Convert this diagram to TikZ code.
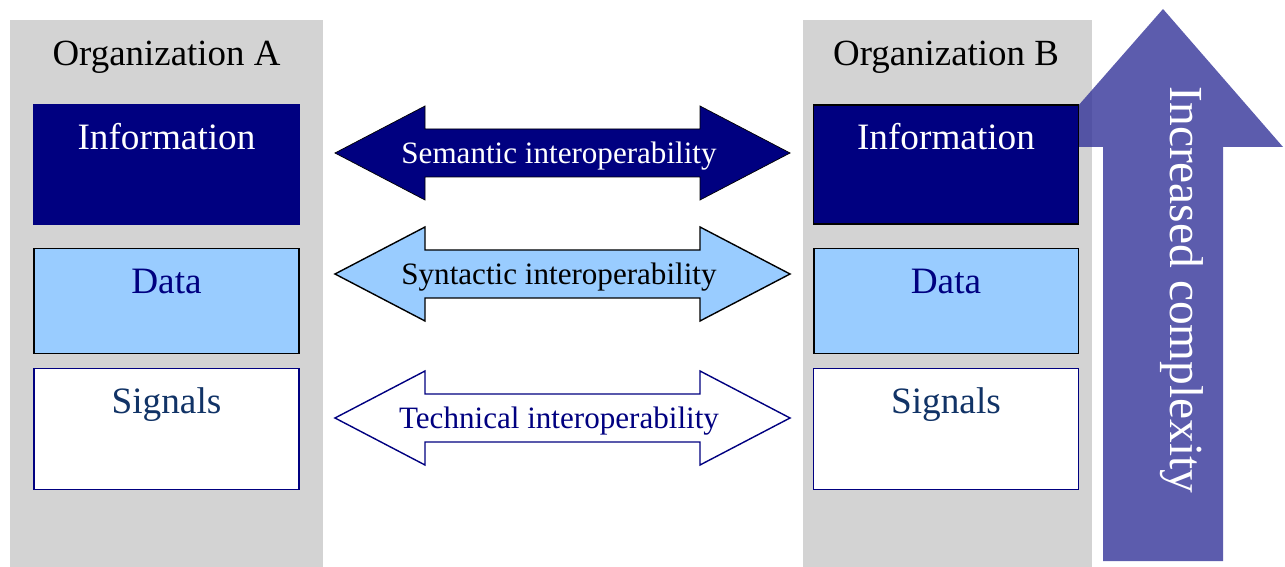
\documentclass[tikz,border=0pt]{standalone}
\usepackage{fontspec}
\setmainfont{Liberation Serif}
\usetikzlibrary{positioning}
\definecolor{panelgray}{RGB}{211,211,211}
\definecolor{infonavy}{RGB}{0,0,128}
\definecolor{datablue}{RGB}{153,204,255}
\definecolor{signaltext}{RGB}{17,51,102}
\definecolor{complexblue}{RGB}{51,51,153}

\begin{document}
\begin{tikzpicture}[x=0.02cm, y=-0.02cm,
	layer/.style={minimum width=5.3cm, inner sep=0pt, text height=0.9cm, font=\fontsize{21.2}{25}\selectfont},
	infobox/.style={layer, fill=infonavy, text=white, text depth=1.48cm, line width=0.8pt},
	databox/.style={layer, fill=datablue, draw=black, text=infonavy, text depth=1.2cm, line width=1.1pt},
	signalbox/.style={layer, fill=white, draw=infonavy, text=signaltext, text depth=1.52cm, line width=0.9pt},
	semantic/.style={fill=infonavy, text=white},
	syntactic/.style={fill=datablue, draw=black, line width=0.8pt, text=black},
	technical/.style={fill=white, draw=infonavy, line width=0.8pt, text=infonavy}]
	\useasboundingbox (0,0) rectangle (1285,567);
	% the two organizations
	\fill [panelgray] (10,20) rectangle (323,567);
	\fill [panelgray] (803,20) rectangle (1092,567);
	% complexity arrow, behind the boxes
	\fill [complexblue, fill opacity=0.8] (1103,561) -- (1103,147) -- (1042,147) -- (1163,9) -- (1283,147) -- (1223,147) -- (1223,561) -- cycle;
	\node [rotate=-90, anchor=base, text=white, font=\fontsize{27}{30}\selectfont] (complexity) at (1170,290) {Increased complexity};
	\foreach \c/\x/\b in {A/166.5/infonavy, B/946/black} {
		\node [anchor=base, font=\fontsize{21}{25}\selectfont] (org\c) at (\x,66) {Organization \c};
		\node [infobox, draw=\b] (info\c) at (\x,164.5) {Information};
		\node [databox] (data\c) at (\x,301) {Data};
		\node [signalbox] (signals\c) at (\x,429) {Signals};
	}
	% interoperability arrows
	\foreach \y/\s/\t in {153/semantic/Semantic, 274/syntactic/Syntactic, 418/technical/Technical}
	\draw [\s] (335,\y) -- (425,\y-47) -- (425,\y-24) -- (700,\y-24) -- (700,\y-47) -- (790,\y) -- (700,\y+47) -- (700,\y+24) -- (425,\y+24) -- (425,\y+47) -- cycle
		node [anchor=base, font=\fontsize{17.7}{21}\selectfont] (\s) at (559,\y+10.5) {\t\ interoperability};
\end{tikzpicture}
\end{document}
